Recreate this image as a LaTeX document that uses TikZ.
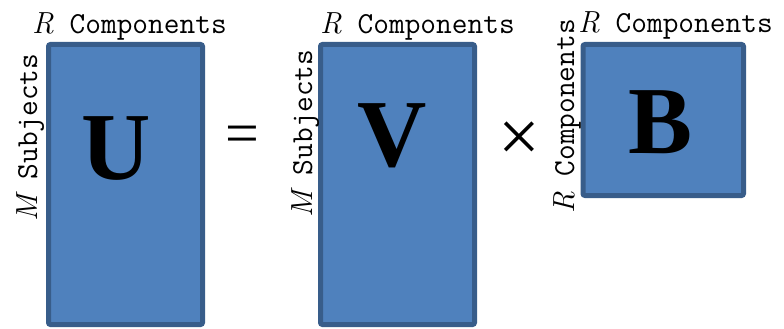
\documentclass[tikz,border=0pt]{standalone}
\usepackage{fontspec}
\newfontfamily\tnr{Liberation Serif}
\definecolor{matfill}{HTML}{4F81BD}
\definecolor{matline}{HTML}{385D8A}
\tikzset{
  matbox/.style={draw=matline, fill=matfill, line width=5pt, rounded corners=2pt, inner sep=0pt},
  toplabel/.style={anchor=base west, inner sep=0pt, font=\fontsize{30.5}{36}\selectfont\ttfamily},
  sidelabel/.style={anchor=base west, inner sep=0pt, rotate=90, font=\fontsize{30.5}{36}\selectfont\ttfamily},
  bigletter/.style={anchor=base, inner sep=0pt, font=\fontsize{96}{110}\selectfont\tnr\bfseries},
  opsign/.style={anchor=base, inner sep=0pt, font=\fontsize{60}{70}\selectfont\tnr},
}
\newcommand{\itR}{{\rmfamily\itshape R}}
\newcommand{\itM}{{\rmfamily\itshape M}}
\begin{document}
\begin{tikzpicture}[x=1pt, y=-1pt]
\useasboundingbox (0,0) rectangle (784,329);
% matrices
\node[matbox, minimum width=154pt, minimum height=280pt] (Ubox) at (125.5,184.5) {};
\node[matbox, minimum width=154pt, minimum height=280pt] (Vbox) at (397.5,184.5) {};
\node[matbox, minimum width=160.5pt, minimum height=151pt] (Bbox) at (663.25,120) {};
% letters
\node[bigletter] (Ulet) at (116,179) {U};
\node[bigletter] (Vlet) at (392,166) {V};
\node[bigletter] (Blet) at (660.5,153) {B};
% operators
\node[opsign] (eq) at (242,153) {=};
\node[opsign, font=\fontsize{74}{80}\selectfont\tnr] (times) at (519,161) {×};
% top labels
\node[toplabel] (Utop) at (32,34) {\itR{} Components};
\node[toplabel] (Vtop) at (320,34) {\itR{} Components};
\node[toplabel] (Btop) at (578,33) {\itR{} Components};
% side labels
\node[sidelabel] (Uside) at (37,222) {\itM{} Subjects};
\node[sidelabel] (Vside) at (312,218) {\itM{} Subjects};
\node[sidelabel] (Bside) at (574,214) {\itR{} Components};
\end{tikzpicture}
\end{document}
